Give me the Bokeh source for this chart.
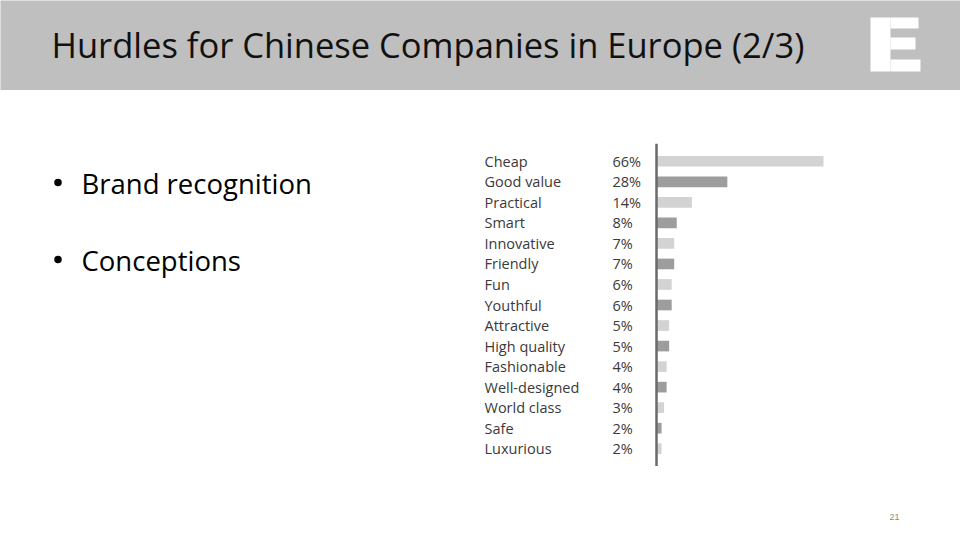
from bokeh.plotting import figure
from bokeh.layouts import column, row
from bokeh.models import Range1d, FactorRange, Span, ColumnDataSource
from bokeh.core.properties import value
from bokeh.embed import file_html
from bokeh.resources import INLINE

# ---- data ----
title_text = "Hurdles for Chinese Companies in Europe (2/3)"
bullets = ["Brand recognition", "Conceptions"]
categories = ["Cheap", "Good value", "Practical", "Smart", "Innovative", "Friendly",
              "Fun", "Youthful", "Attractive", "High quality", "Fashionable",
              "Well-designed", "World class", "Safe", "Luxurious"]
shares = [66, 28, 14, 8, 7, 7, 6, 6, 5, 5, 4, 4, 3, 2, 2]
share_labels = [f"{v}%" for v in shares]
page_number = "21"

GRAY_BAND = "#bfbfbf"
LIGHT = "#d3d3d3"
DARK = "#9d9d9d"
FONT = value("Open Sans")


def base_fig(w, h, xr, yr, **kw):
    f = figure(width=w, height=h, x_range=xr, y_range=yr, output_backend="svg",
               toolbar_location=None, title=None, x_axis_location=None,
               y_axis_location=None, min_border=0, **kw)
    f.xgrid.visible = False
    f.ygrid.visible = False
    f.outline_line_color = None
    return f


# ---- header ----
head = base_fig(960, 90, Range1d(0, 960), Range1d(90, 0))
head.background_fill_color = GRAY_BAND
head.border_fill_color = GRAY_BAND
head.text(x=[51], y=[44], text=[title_text], text_font=FONT,
          text_font_size="34.5px", text_color="#111111", text_baseline="middle")
# logo "E"
head.quad(left=[870, 890, 890, 890], right=[890, 918, 915, 920],
          top=[17, 17, 37, 59], bottom=[71, 28, 49, 71],
          fill_color="white", line_color=None)

# ---- left: bullets ----
left = base_fig(470, 450, Range1d(0, 470), Range1d(540, 90))
bullet_y = [183, 260]
left.scatter(x=[57.5] * len(bullets), y=[v - 1 for v in bullet_y], size=7.5,
             marker="circle", fill_color="black", line_color=None)
left.text(x=[81] * len(bullets), y=bullet_y, text=bullets,
          text_font=FONT, text_font_size="27.5px", text_color="black",
          text_baseline="middle")

# ---- chart ----
PX = 2.53  # pixels per percent
colors = [LIGHT if i % 2 == 0 else DARK for i in range(len(categories))]
src = ColumnDataSource(dict(cat=categories, v=shares, lab=share_labels, c=colors))
yr = FactorRange(factors=list(reversed(categories)), range_padding=0.366,
                 range_padding_units="absolute")
chart = base_fig(490, 376, Range1d(-(656 - 470) / PX, (960 - 656) / PX), yr)
chart.min_border_top = 53
chart.hbar(y="cat", left=0, right="v", height=0.52, fill_color="c",
           line_color=None, source=src)
chart.text(x=0, y="cat", text="cat", x_offset=-172, source=src,
           text_font=FONT, text_font_size="14.5px",
           text_color="#3a3a3a", text_baseline="middle", text_align="left")
chart.text(x=0, y="cat", text="lab", x_offset=-44, source=src,
           text_font=FONT, text_font_size="14.5px",
           text_color="#3a3a3a", text_baseline="middle", text_align="left")
chart.add_layout(Span(location=0, dimension="height", line_color="#6a6a6a",
                      line_width=2.5))

# ---- footer ----
foot = base_fig(490, 74, Range1d(470, 960), Range1d(540, 466))
foot.text(x=[889], y=[516.5], text=[page_number], text_font=value("Liberation Sans"),
          text_font_size="9px", text_color="#8a8a8a", text_baseline="middle")

layout = column(head, row(left, column(chart, foot)))

open("out.html", "w").write(file_html(layout, INLINE))
